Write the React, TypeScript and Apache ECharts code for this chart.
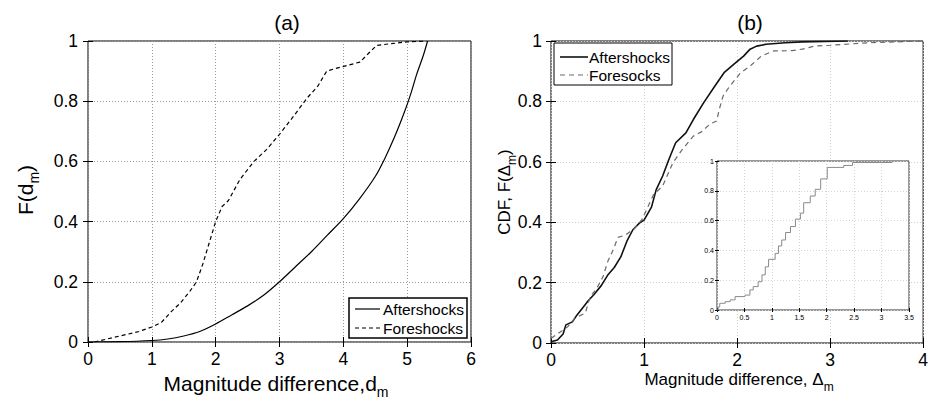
import React, { useEffect, useRef } from "react";
import * as echarts from "echarts";

// Panel (a): cumulative distributions of magnitude difference d_m
const aftA_X = [0, 0.5, 1.0, 1.25, 1.5, 1.75, 2.0, 2.25, 2.5, 2.75, 3.0, 3.25, 3.5, 3.75, 4.0, 4.25, 4.5, 4.65, 4.8, 4.95, 5.05, 5.15, 5.25, 5.32];
const aftA_F = [0, 0.001, 0.005, 0.01, 0.02, 0.035, 0.06, 0.09, 0.12, 0.155, 0.2, 0.25, 0.3, 0.355, 0.41, 0.475, 0.55, 0.61, 0.68, 0.76, 0.82, 0.89, 0.95, 1.0];
const foreA_X = [0.1, 0.3, 0.5, 0.8, 1.0, 1.15, 1.3, 1.45, 1.6, 1.7, 1.8, 1.9, 2.0, 2.1, 2.2, 2.38, 2.6, 2.8, 3.0, 3.22, 3.43, 3.6, 3.74, 3.9, 4.26, 4.4, 4.52, 4.7, 5.0, 5.3];
const foreA_F = [0, 0.01, 0.02, 0.035, 0.05, 0.065, 0.1, 0.13, 0.17, 0.2, 0.26, 0.33, 0.4, 0.45, 0.47, 0.54, 0.6, 0.64, 0.69, 0.75, 0.81, 0.85, 0.9, 0.91, 0.93, 0.96, 0.985, 0.99, 0.997, 1.0];

// Panel (b): empirical CDFs of magnitude difference Δ_m
const aftB_X = [0, 0.07, 0.13, 0.16, 0.23, 0.28, 0.35, 0.4, 0.46, 0.54, 0.61, 0.68, 0.75, 0.82, 0.88, 0.95, 1.0, 1.08, 1.13, 1.2, 1.27, 1.34, 1.45, 1.53, 1.64, 1.76, 1.86, 1.97, 2.07, 2.14, 2.21, 2.31, 2.52, 2.7, 3.19];
const aftB_F = [0.004, 0.01, 0.03, 0.06, 0.07, 0.093, 0.12, 0.14, 0.16, 0.19, 0.225, 0.25, 0.285, 0.34, 0.375, 0.397, 0.407, 0.45, 0.507, 0.553, 0.61, 0.663, 0.696, 0.74, 0.795, 0.85, 0.895, 0.924, 0.95, 0.973, 0.983, 0.989, 0.994, 0.997, 1.0];
const foreB_X = [0, 0.07, 0.18, 0.25, 0.37, 0.42, 0.49, 0.56, 0.61, 0.67, 0.72, 0.8, 0.9, 0.98, 1.1, 1.2, 1.31, 1.41, 1.53, 1.62, 1.71, 1.78, 1.81, 1.85, 1.92, 2.04, 2.14, 2.26, 2.39, 2.59, 2.7, 2.83, 3.01, 3.4, 3.7, 4.0];
const foreB_F = [0.015, 0.03, 0.054, 0.08, 0.1, 0.153, 0.18, 0.22, 0.27, 0.31, 0.35, 0.357, 0.38, 0.41, 0.49, 0.52, 0.597, 0.64, 0.685, 0.7, 0.725, 0.735, 0.775, 0.818, 0.85, 0.895, 0.917, 0.95, 0.967, 0.968, 0.973, 0.983, 0.986, 0.994, 0.997, 1.0];

// Inset of panel (b): staircase CDF
const inset_X = [0, 0.02, 0.05, 0.15, 0.24, 0.33, 0.51, 0.6, 0.66, 0.75, 0.82, 0.88, 0.94, 1.06, 1.12, 1.18, 1.25, 1.34, 1.43, 1.52, 1.58, 1.7, 1.79, 1.89, 2.01, 2.31, 2.47, 3.2];
const inset_F = [0, 0.02, 0.045, 0.056, 0.068, 0.09, 0.1, 0.135, 0.157, 0.19, 0.236, 0.29, 0.34, 0.38, 0.43, 0.47, 0.52, 0.56, 0.61, 0.65, 0.72, 0.765, 0.81, 0.88, 0.957, 0.97, 0.99, 0.99];

// Legend entries
const legendA = ["Aftershocks", "Foreshocks"];
const legendB = ["Aftershocks", "Foresocks"];

const FONT = "Liberation Sans, Arial, Helvetica, sans-serif";

const pairs = (xs: number[], ys: number[]) => xs.map((x, i) => [x, ys[i]]);

function mainAxis(
  gridIndex: number,
  min: number,
  max: number,
  interval: number,
  position: string,
  showLabel: boolean,
  fontSize: number,
  margin: number,
  gridColor: string | null,
  tickLen: number,
  z = 0
) {
  return {
    type: "value",
    gridIndex,
    min,
    max,
    interval,
    position,
    z,
    axisLine: { show: false },
    axisTick: { show: true, inside: true, length: tickLen, lineStyle: { color: "#000", width: 1 } },
    axisLabel: { show: showLabel, fontSize, fontFamily: FONT, color: "#000", margin },
    splitLine: gridColor
      ? { show: true, lineStyle: { color: gridColor, type: [1, 2], width: 1 } }
      : { show: false },
  };
}

// Text with a subscripted tail: main part centred on the line, subscript dropped to the bottom
function subText(main: string, sub: string, tail: string, size: number, subSize: number, lh: number, subLh: number) {
  return {
    text: `{n|${main}}{s|${sub}}` + (tail ? `{n|${tail}}` : ""),
    align: "center",
    verticalAlign: "middle",
    rich: {
      n: { fontSize: size, fontFamily: FONT, fill: "#000", lineHeight: lh, verticalAlign: "middle" },
      s: { fontSize: subSize, fontFamily: FONT, fill: "#000", lineHeight: subLh, verticalAlign: "bottom" },
    },
  };
}

function legendBox(
  x: number,
  y: number,
  w: number,
  h: number,
  labels: string[],
  rows: number[],
  lineX0: number,
  lineX1: number,
  textX: number,
  boxWidth: number,
  styles: { color: string; width: number; dash: number[] | null }[]
) {
  const els: any[] = [
    {
      type: "rect",
      shape: { x, y, width: w, height: h },
      style: { fill: "#fff", stroke: "#000", lineWidth: boxWidth },
      z: 10,
    },
  ];
  labels.forEach((label, i) => {
    els.push({
      type: "line",
      shape: { x1: lineX0, y1: rows[i], x2: lineX1, y2: rows[i] },
      style: { stroke: styles[i].color, lineWidth: styles[i].width, lineDash: styles[i].dash || undefined },
      z: 11,
    });
    els.push({
      type: "text",
      x: textX,
      y: rows[i],
      style: { text: label, font: `15.5px ${FONT}`, fill: "#000", align: "left", verticalAlign: "middle" },
      z: 11,
    });
  });
  return els;
}

export default function App() {
  const ref = useRef<HTMLDivElement>(null);

  useEffect(() => {
    document.body.style.margin = "0";
    if (!ref.current) return;
    const chart = echarts.init(ref.current, undefined, { renderer: "svg" });

    const option = {
      animation: false,
      backgroundColor: "#fff",
      grid: [
        { left: 88, top: 41, width: 383, height: 301, show: true, borderColor: "#000", borderWidth: 1, backgroundColor: "transparent" },
        { left: 551, top: 41, width: 384, height: 302, show: true, borderColor: "#000", borderWidth: 1, backgroundColor: "transparent" },
        { left: 717, top: 161, width: 192, height: 149, show: true, borderColor: "#333", borderWidth: 1, backgroundColor: "#fff", z: 3 },
      ],
      xAxis: [
        mainAxis(0, 0, 6, 1, "bottom", true, 17.5, 8, "#9a9a9a", 5),
        mainAxis(1, 0, 4, 1, "bottom", true, 17.5, 8, "#cfcfcf", 5),
        mainAxis(2, 0, 3.5, 0.5, "bottom", true, 7, 4, "#d4d4d4", 2, 4),
        mainAxis(0, 0, 6, 1, "top", false, 17, 8, null, 5),
        mainAxis(1, 0, 4, 1, "top", false, 17, 8, null, 5),
        mainAxis(2, 0, 3.5, 0.5, "top", false, 7, 4, null, 2, 4),
      ],
      yAxis: [
        mainAxis(0, 0, 1, 0.2, "left", true, 17.5, 10, "#9a9a9a", 5),
        mainAxis(1, 0, 1, 0.2, "left", true, 17.5, 9, "#cfcfcf", 5),
        mainAxis(2, 0, 1, 0.2, "left", true, 7, 3, "#d4d4d4", 2, 4),
        mainAxis(0, 0, 1, 0.2, "right", false, 17, 8, null, 5),
        mainAxis(1, 0, 1, 0.2, "right", false, 17, 8, null, 5),
        mainAxis(2, 0, 1, 0.2, "right", false, 7, 4, null, 2, 4),
      ],
      series: [
        {
          name: "Aftershocks (a)",
          type: "line",
          xAxisIndex: 0,
          yAxisIndex: 0,
          symbol: "none",
          smooth: 0.3,
          data: pairs(aftA_X, aftA_F),
          lineStyle: { color: "#000", width: 1.2, type: "solid" },
        },
        {
          name: "Foreshocks (a)",
          type: "line",
          xAxisIndex: 0,
          yAxisIndex: 0,
          symbol: "none",
          data: pairs(foreA_X, foreA_F),
          lineStyle: { color: "#000", width: 1.2, type: [4, 3] },
        },
        {
          name: "Aftershocks (b)",
          type: "line",
          xAxisIndex: 1,
          yAxisIndex: 1,
          symbol: "none",
          data: pairs(aftB_X, aftB_F),
          lineStyle: { color: "#111", width: 1.6, type: "solid" },
        },
        {
          name: "Foresocks (b)",
          type: "line",
          xAxisIndex: 1,
          yAxisIndex: 1,
          symbol: "none",
          data: pairs(foreB_X, foreB_F),
          lineStyle: { color: "#6a6a6a", width: 1.2, type: [5, 4] },
        },
        {
          name: "inset",
          type: "line",
          xAxisIndex: 2,
          yAxisIndex: 2,
          symbol: "none",
          step: "end",
          z: 5,
          data: pairs(inset_X, inset_F),
          lineStyle: { color: "#8a8a8a", width: 1 },
        },
      ],
      graphic: [
        {
          type: "text",
          x: 287,
          y: 22,
          style: { text: "(a)", font: `21px ${FONT}`, fill: "#000", align: "center", verticalAlign: "middle" },
        },
        {
          type: "text",
          x: 750,
          y: 22,
          style: { text: "(b)", font: `21px ${FONT}`, fill: "#000", align: "center", verticalAlign: "middle" },
        },
        { type: "text", x: 276, y: 383, style: subText("Magnitude difference,d", "m", "", 21, 14, 24, 32) },
        { type: "text", x: 25, y: 190, rotation: Math.PI / 2, style: subText("F(d", "m", ")", 21, 14, 24, 32) },
        { type: "text", x: 739, y: 379, style: subText("Magnitude difference, Δ", "m", "", 17, 12, 20, 28) },
        { type: "text", x: 504, y: 192, rotation: Math.PI / 2, style: subText("CDF, F(Δ", "m", ")", 17, 12, 20, 28) },
        ...legendBox(349, 298, 118, 40, legendA, [309, 328], 355, 380, 383, 1.5, [
          { color: "#000", width: 1.2, dash: null },
          { color: "#000", width: 1.2, dash: [4, 3] },
        ]),
        ...legendBox(554, 43, 118, 42, legendB, [57, 75], 560, 588, 589, 1, [
          { color: "#111", width: 1.6, dash: null },
          { color: "#6a6a6a", width: 1.2, dash: [5, 4] },
        ]),
      ],
    };

    chart.setOption(option as any);
    return () => chart.dispose();
  }, []);

  return <div ref={ref} style={{ width: 931, height: 401 }} />;
}
